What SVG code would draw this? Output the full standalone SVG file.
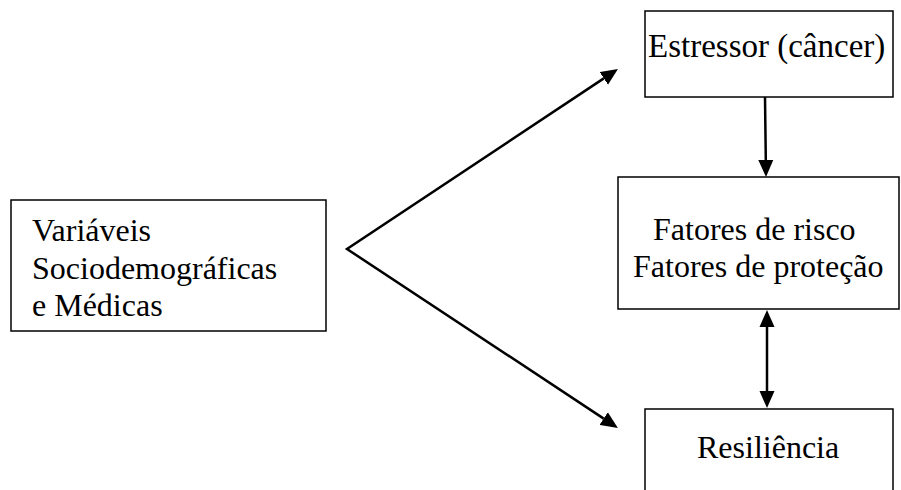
<svg xmlns="http://www.w3.org/2000/svg" width="901" height="490" viewBox="0 0 901 490">
  <style>
    .box { fill: #ffffff; stroke: #000000; stroke-width: 1.5; }
    .lbl { font-family: "Liberation Serif", "Times New Roman", serif; font-size: 32px; fill: #000000; }
    .conn { stroke: #000000; stroke-width: 2.5; fill: none; }
  </style>
  <defs>
    <marker id="arrow" markerUnits="userSpaceOnUse" markerWidth="17" markerHeight="16" refX="0" refY="8" orient="auto-start-reverse">
      <path d="M0,0.5 L17,8 L0,15.5 z" fill="#000000"/>
    </marker>
  </defs>
  <rect width="901" height="490" fill="#ffffff"/>

  <g id="node-variaveis">
    <rect class="box" x="11" y="200" width="315" height="131"/>
    <text class="lbl" x="32" y="241">Variáveis</text>
    <text class="lbl" x="32" y="279">Sociodemográficas</text>
    <text class="lbl" x="32" y="316">e Médicas</text>
  </g>

  <g id="node-estressor">
    <rect class="box" x="645" y="11" width="248" height="86"/>
    <text class="lbl" x="648" y="57" style="font-size:33px">Estressor (câncer)</text>
  </g>

  <g id="node-fatores">
    <rect class="box" x="618" y="177" width="281" height="132"/>
    <text class="lbl" x="653" y="240">Fatores de risco</text>
    <text class="lbl" x="633" y="277">Fatores de proteção</text>
  </g>

  <g id="node-resiliencia">
    <rect class="box" x="645" y="409" width="248" height="90"/>
    <text class="lbl" x="697" y="458">Resiliência</text>
  </g>

  <g id="connectors">
    <polyline class="conn" points="603.8,78.4 347,249 603.7,418.6" marker-start="url(#arrow)" marker-end="url(#arrow)"/>
    <line class="conn" x1="765" y1="97" x2="765.8" y2="160" marker-end="url(#arrow)"/>
    <line class="conn" x1="767" y1="327" x2="767" y2="391" marker-start="url(#arrow)" marker-end="url(#arrow)"/>
  </g>
</svg>
